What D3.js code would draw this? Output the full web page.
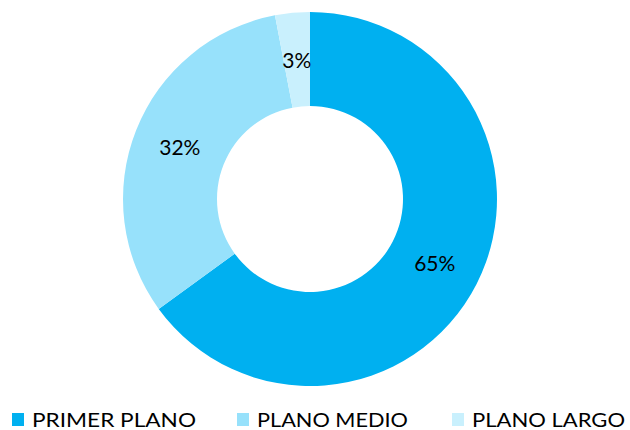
<!DOCTYPE html>
<html>
<head>
<meta charset="utf-8">
<script src="https://cdn.jsdelivr.net/npm/d3@7"></script>
<style>
  body { margin: 0; background: #fff; }
  svg { display: block; font-family: 'Lato', 'Open Sans', sans-serif; }
</style>
</head>
<body>
<div id="graf"></div>
<script>
// Datos
categorias = ['PRIMER PLANO', 'PLANO MEDIO', 'PLANO LARGO']
valores = [65, 32, 3]
etiquetas = ['65%', '32%', '3%']
colores = ['#00B0F0', '#97E1FB', '#C9F0FD']

ancho_total = 630
alto_total = 430

svg = d3.select('#graf').append('svg')
        .attr('width', ancho_total)
        .attr('height', alto_total)

cx = 310
cy = 199
rExt = 187
rInt = 93

color = d3.scaleOrdinal()
          .domain(categorias)
          .range(colores)

datos = categorias.map((c, i) => ({cat: c, valor: valores[i], etiqueta: etiquetas[i]}))

pie = d3.pie()
        .value(d => d.valor)
        .sort(null)

arco = d3.arc()
         .innerRadius(rInt)
         .outerRadius(rExt)

g = svg.append('g')
       .attr('transform', `translate(${cx}, ${cy})`)

g.selectAll('path')
 .data(pie(datos))
 .enter()
 .append('path')
   .attr('d', arco)
   .attr('fill', d => color(d.data.cat))

arcoEtiq = d3.arc()
             .innerRadius((rInt + rExt) / 2)
             .outerRadius((rInt + rExt) / 2)

g.selectAll('text')
 .data(pie(datos))
 .enter()
 .append('text')
   .attr('transform', d => `translate(${arcoEtiq.centroid(d)})`)
   .attr('text-anchor', 'middle')
   .attr('dy', '0.38em')
   .style('font-size', '21px')
   .style('fill', '#000')
   .text(d => d.data.etiqueta)

// Leyenda (posiciones de cada item y ancho del texto)
leyendaX = [12, 237, 452]
leyendaAncho = [164, 151, 153]
leyenda = svg.append('g')
             .attr('transform', 'translate(0, 413)')

items = leyenda.selectAll('g')
               .data(datos)
               .enter()
               .append('g')
                 .attr('transform', (d, i) => `translate(${leyendaX[i]}, 0)`)

items.append('rect')
     .attr('width', 12)
     .attr('height', 13)
     .attr('fill', d => color(d.cat))

items.append('text')
     .attr('x', 20)
     .attr('y', 14)
     .attr('textLength', (d, i) => leyendaAncho[i])
     .attr('lengthAdjust', 'spacingAndGlyphs')
     .style('font-size', '20px')
     .style('fill', '#000')
     .text(d => d.cat)
</script>
</body>
</html>
